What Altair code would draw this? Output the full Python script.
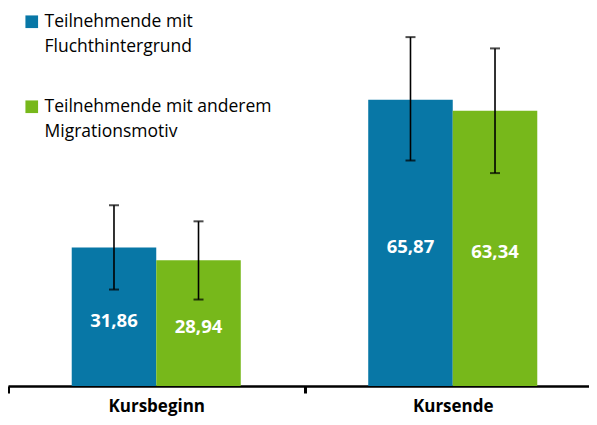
import altair as alt
import pandas as pd

categories = ["Kursbeginn", "Kursende"]
series_names = ["Teilnehmende mit Fluchthintergrund", "Teilnehmende mit anderem Migrationsmotiv"]
colors = ["#0877A6", "#77B81B"]

zeitpunkt = ["Kursbeginn", "Kursbeginn", "Kursende", "Kursende"]
gruppe = [series_names[0], series_names[1], series_names[0], series_names[1]]
werte = [31.86, 28.94, 65.87, 63.34]
unten = [22.2, 19.9, 51.9, 49.0]
oben = [41.6, 37.9, 80.3, 77.7]

df = pd.DataFrame({
    "Zeitpunkt": zeitpunkt,
    "Gruppe": gruppe,
    "Wert": werte,
    "unten": unten,
    "oben": oben,
    "Label": [f"{v:.2f}".replace(".", ",") for v in werte],
})

FONT = "Open Sans"

x_enc = alt.X(
    "Zeitpunkt:N",
    sort=categories,
    scale=alt.Scale(paddingInner=0, paddingOuter=0),
    axis=alt.Axis(
        title=None,
        labelAngle=0,
        tickBand="extent",
        domainColor="black",
        domainWidth=2.5,
        tickColor="black",
        tickWidth=3,
        tickSize=7,
        labelFont=FONT,
        labelFontSize=17,
        labelFontWeight="bold",
        labelColor="black",
        labelPadding=5,
    ),
)
xoff_enc = alt.XOffset(
    "Gruppe:N",
    sort=series_names,
    scale=alt.Scale(paddingInner=0, paddingOuter=0.754),
)
y_scale = alt.Scale(domain=[0, 87], nice=False, zero=True)

base = alt.Chart(df).encode(x=x_enc, xOffset=xoff_enc)

legend_expr = (
    "datum.label == '" + series_names[0] + "' ? ['Teilnehmende mit', 'Fluchthintergrund']"
    " : ['Teilnehmende mit anderem', 'Migrationsmotiv']"
)

bars = base.mark_bar().encode(
    y=alt.Y("Wert:Q", scale=y_scale, axis=None),
    color=alt.Color(
        "Gruppe:N",
        sort=series_names,
        scale=alt.Scale(domain=series_names, range=colors),
        legend=alt.Legend(
            title=None,
            orient="none",
            legendX=15,
            legendY=5,
            direction="vertical",
            symbolType="square",
            symbolSize=160,
            symbolStrokeWidth=0,
            symbolOpacity=1,
            labelFont=FONT,
            labelFontSize=17.5,
            labelColor="black",
            labelLimit=400,
            labelOffset=4,
            labelExpr=legend_expr,
            rowPadding=41,
        ),
    ),
)

rules = base.mark_rule(color="black", strokeWidth=1.6).encode(
    y=alt.Y("unten:Q", scale=y_scale, axis=None),
    y2="oben:Q",
)
cap_top = base.mark_tick(color="black", thickness=2, size=10).encode(
    y=alt.Y("oben:Q", scale=y_scale, axis=None)
)
cap_bot = base.mark_tick(color="black", thickness=2, size=10).encode(
    y=alt.Y("unten:Q", scale=y_scale, axis=None)
)
labels = base.transform_calculate(mitte="datum.Wert / 2").mark_text(
    color="white", font=FONT, fontSize=18.5, fontWeight="bold", baseline="middle", dy=4
).encode(
    y=alt.Y("mitte:Q", scale=y_scale, axis=None),
    text="Label:N",
)

chart = (
    alt.layer(bars, rules, cap_top, cap_bot, labels)
    .properties(
        width=593,
        height=378,
        padding={"left": 0, "top": 0, "right": -12, "bottom": 31},
        autosize=alt.AutoSizeParams(type="none"),
    )
    .configure(style={"guide-label": {"lineHeight": 25}})
    .configure_view(stroke=None)
)

chart.save("out.html", embed_options={"renderer": "svg", "actions": False})
